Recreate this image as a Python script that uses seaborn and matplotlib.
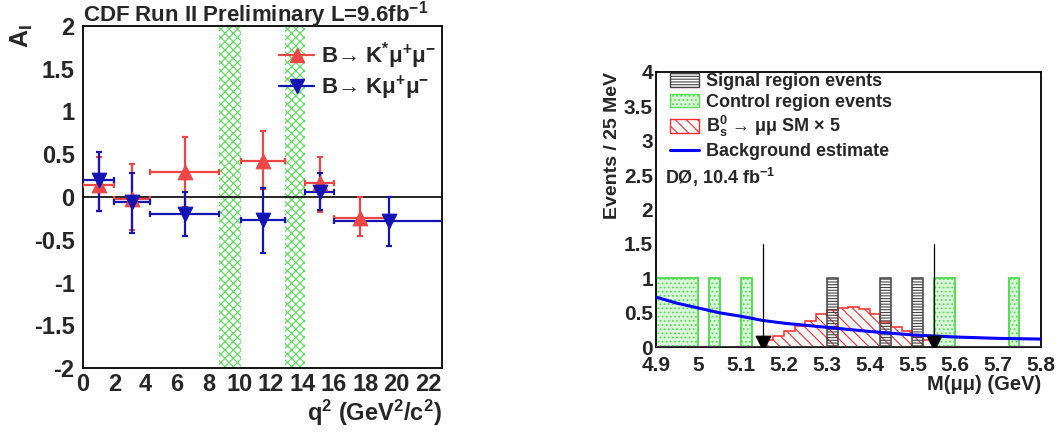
import numpy as np
import matplotlib
matplotlib.use("Agg")
import matplotlib.pyplot as plt
import seaborn as sns
from matplotlib.lines import Line2D
from matplotlib.patches import Patch
from matplotlib.ticker import MultipleLocator

# ---- left panel: CDF isospin asymmetry vs q^2 ----
# B -> K* mu mu
kst_lo = [0.0, 2.0, 4.3, 10.09, 14.18, 16.0]
kst_hi = [2.0, 4.3, 8.68, 12.86, 16.0, 19.3]
kst_ai = [0.14, -0.02, 0.29, 0.42, 0.16, -0.24]
kst_up = [0.47, 0.39, 0.70, 0.77, 0.47, 0.0]
kst_dn = [-0.16, -0.39, -0.12, 0.09, -0.18, -0.46]

# B -> K mu mu
k_lo = [0.0, 2.0, 4.3, 10.09, 14.18, 16.0]
k_hi = [2.0, 4.3, 8.68, 12.86, 16.0, 23.0]
k_ai = [0.20, -0.06, -0.20, -0.27, 0.055, -0.28]
k_up = [0.53, 0.28, 0.055, 0.10, 0.28, 0.0]
k_dn = [-0.16, -0.42, -0.46, -0.65, -0.15, -0.57]

# charmonium vetoes
veto_lo = [8.68, 12.86]
veto_hi = [10.09, 14.18]

# ---- right panel: D0 Bs -> mu mu mass ----
bin_w = 0.025
hist_edges = np.round(np.arange(4.9, 5.8 + bin_w / 2, bin_w), 3)
ctrl_events = [4.9125, 4.9375, 4.9625, 4.9875, 5.0375, 5.1125, 5.5625, 5.5875, 5.7375]
sig_events = [5.3125, 5.4375, 5.5125]
sm_left = [5.15, 5.175, 5.2, 5.225, 5.25, 5.275, 5.3, 5.325,
           5.35, 5.375, 5.4, 5.425, 5.45, 5.475, 5.5, 5.525]
sm_val = [0.10, 0.17, 0.24, 0.31, 0.38, 0.48, 0.54, 0.57,
          0.58, 0.55, 0.48, 0.37, 0.30, 0.23, 0.16, 0.11]
bkg_mass = [4.90, 4.95, 5.00, 5.05, 5.10, 5.15, 5.20, 5.25, 5.30, 5.35,
            5.40, 5.45, 5.50, 5.55, 5.60, 5.65, 5.70, 5.75, 5.80]
bkg_val = [0.73, 0.64, 0.57, 0.50, 0.45, 0.39, 0.35, 0.32, 0.29, 0.26,
           0.23, 0.205, 0.18, 0.165, 0.15, 0.14, 0.13, 0.125, 0.12]
cut_mass = [5.15, 5.55]

sns.set_style("white")
plt.rcParams['font.family'] = ['Liberation Sans', 'DejaVu Sans']
plt.rcParams['font.weight'] = 'bold'
plt.rcParams['mathtext.fontset'] = 'custom'
plt.rcParams['mathtext.rm'] = 'Liberation Sans:bold'
plt.rcParams['mathtext.bf'] = 'Liberation Sans:bold'
plt.rcParams['mathtext.it'] = 'Liberation Sans:bold'
plt.rcParams['hatch.linewidth'] = 0.8

red = '#ee4646'
blue = '#1414b4'
green = '#55dd55'

fig = plt.figure(figsize=(10.61, 4.32), dpi=100)
ax1 = fig.add_axes([0.0782, 0.1475, 0.3384, 0.793])
ax2 = fig.add_axes([0.618, 0.196, 0.363, 0.638])

# left panel
for lo, hi in zip(veto_lo, veto_hi):
    ax1.axvspan(lo, hi, facecolor='none', edgecolor=green, hatch='xxxx', linewidth=0)
ax1.axhline(0, color='black', lw=1.2, zorder=1)

for lo, hi, v, up, dn, col, mk in [
        (kst_lo, kst_hi, kst_ai, kst_up, kst_dn, red, '^'),
        (k_lo, k_hi, k_ai, k_up, k_dn, blue, 'v')]:
    lo = np.array(lo); hi = np.array(hi); v = np.array(v)
    xc = (lo + hi) / 2
    ax1.errorbar(xc, v, xerr=[xc - lo, hi - xc],
                 yerr=[v - np.array(dn), np.array(up) - v],
                 fmt='none', ecolor=col, elinewidth=1.6, capsize=2.5, capthick=1.6, zorder=3)
    sns.scatterplot(x=xc, y=v, marker=mk, s=110, color=col, edgecolor=col, ax=ax1, zorder=4)

ax1.set_xlim(0, 22.9)
ax1.set_ylim(-2, 2)
ax1.xaxis.set_major_locator(MultipleLocator(2))
ax1.xaxis.set_minor_locator(MultipleLocator(0.4))
ax1.yaxis.set_major_locator(MultipleLocator(0.5))
ax1.yaxis.set_minor_locator(MultipleLocator(0.1))
ax1.tick_params(which='both', direction='in', labelsize=17, width=1.2)
ax1.tick_params(which='major', length=8)
ax1.tick_params(which='minor', length=4)
ax1.tick_params(axis='y', pad=6)
ax1.yaxis.set_ticks([-2, -1.5, -1, -0.5, 0, 0.5, 1, 1.5, 2])
ax1.set_yticklabels(['-2', '-1.5', '-1', '-0.5', '0', '0.5', '1', '1.5', '2'])
for s in ax1.spines.values():
    s.set_linewidth(1.3)
    s.set_color('black')

ax1.set_title('CDF Run II Preliminary L=9.6fb$^{-1}$', fontsize=16, fontweight='bold',
              loc='left', pad=3)
ax1.set_ylabel('A$_{\\mathregular{I}}$', fontsize=18, fontweight='bold')
ax1.yaxis.set_label_coords(-0.15, 0.97)
ax1.yaxis.label.set_verticalalignment('baseline')
ax1.set_xlabel('q$^{2}$ (GeV$^{2}$/c$^{2}$)', fontsize=17, fontweight='bold', loc='right')
ax1.xaxis.set_label_coords(1.0, -0.085)

h1 = [Line2D([], [], color=red, marker='^', markersize=10, lw=1.6),
      Line2D([], [], color=blue, marker='v', markersize=10, lw=1.6)]
ax1.legend(h1, ['B\u2192 K$^{*}$\u03bc$^{+}$\u03bc$^{-}$', 'B\u2192 K\u03bc$^{+}$\u03bc$^{-}$'],
           loc='upper left', bbox_to_anchor=(0.49, 1.015), frameon=False, fontsize=16,
           handlelength=1.6, handletextpad=0.3, labelspacing=0.1)

# right panel
ctrl_counts, _ = np.histogram(ctrl_events, bins=hist_edges)
sig_counts, _ = np.histogram(sig_events, bins=hist_edges)
ax2.stairs(ctrl_counts, hist_edges, fill=True, facecolor='#dcf6dc', edgecolor=green,
           hatch='....', linewidth=1.2, zorder=1)
ax2.stairs(ctrl_counts, hist_edges, fill=False, color=green, linewidth=1.2, zorder=2)
sm_edges = list(sm_left) + [sm_left[-1] + bin_w]
ax2.stairs(sm_val, sm_edges, fill=True, facecolor='none', edgecolor='#ff2a2a',
           hatch='\\\\\\', linewidth=0, zorder=2)
ax2.stairs(sm_val, sm_edges, fill=False, color='#ff2a2a', linewidth=1.1, zorder=3)
ax2.stairs(sig_counts, hist_edges, fill=True, facecolor='none', edgecolor='#444444',
           hatch='------', linewidth=0, zorder=3)
ax2.stairs(sig_counts, hist_edges, fill=False, color='#444444', linewidth=1.1, zorder=3)
sns.lineplot(x=bkg_mass, y=bkg_val, color='#0000ff', lw=2.2, ax=ax2, zorder=5)
for m in cut_mass:
    ax2.plot([m, m], [0, 1.5], color='black', lw=0.9, zorder=6)
sns.scatterplot(x=cut_mass, y=[0.06, 0.06], marker='v', s=110, color='black',
                edgecolor='black', ax=ax2, zorder=7)

ax2.set_xlim(4.9, 5.8)
ax2.set_ylim(0, 4)
ax2.xaxis.set_minor_locator(MultipleLocator(0.025))
ax2.yaxis.set_minor_locator(MultipleLocator(0.1))
ax2.set_xticks(np.round(np.arange(4.9, 5.81, 0.1), 1))
ax2.set_xticklabels(['4.9', '5', '5.1', '5.2', '5.3', '5.4', '5.5', '5.6', '5.7', '5.8'])
ax2.set_yticks([0, 0.5, 1, 1.5, 2, 2.5, 3, 3.5, 4])
ax2.set_yticklabels(['0', '0.5', '1', '1.5', '2', '2.5', '3', '3.5', '4'])
ax2.tick_params(which='both', direction='in', labelsize=15, width=1.2)
ax2.tick_params(which='major', length=9)
ax2.tick_params(which='minor', length=4.5)
ax2.tick_params(axis='y', pad=2)
ax2.tick_params(axis='x', pad=6.5)
for s in ax2.spines.values():
    s.set_linewidth(1.3)
    s.set_color('black')

ax2.set_ylabel('Events / 25 MeV', fontsize=14, fontweight='bold', loc='top')
ax2.yaxis.set_label_coords(-0.09, 1.0)
ax2.set_xlabel('M(\u03bc\u03bc) (GeV)', fontsize=14.5, fontweight='bold', loc='right')
ax2.xaxis.set_label_coords(1.0, -0.1)

h2 = [Patch(facecolor='white', edgecolor='#444444', hatch='------', lw=1),
      Patch(facecolor='#dcf6dc', edgecolor=green, hatch='....', lw=1),
      Patch(facecolor='white', edgecolor='#ff2a2a', hatch='\\\\\\', lw=1),
      Line2D([], [], color='#0000ff', lw=2.2)]
ax2.legend(h2, ['Signal region events', 'Control region events',
                'B$_{s}^{0}$ \u2192 \u03bc\u03bc SM \u00d7 5', 'Background estimate'],
           loc='upper left', bbox_to_anchor=(-0.005, 1.055), frameon=False, fontsize=13,
           handlelength=1.6, handleheight=0.8, handletextpad=0.4, labelspacing=0.2)
ax2.text(0.025, 0.615, 'D\u00d8, 10.4 fb$^{-1}$', transform=ax2.transAxes,
         fontsize=13, fontweight='bold', va='center')

fig.savefig('out.png', dpi=100)
